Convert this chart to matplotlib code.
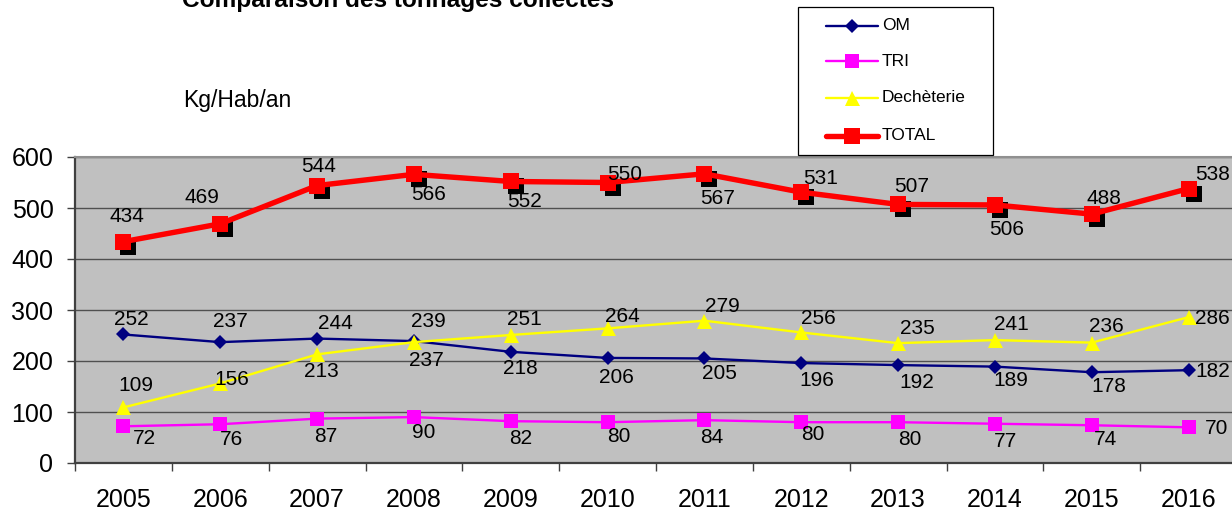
import matplotlib
matplotlib.use('Agg')
import matplotlib.pyplot as plt
from matplotlib.lines import Line2D
from matplotlib.patches import Rectangle
import matplotlib.transforms as mtransforms

plt.rcParams['font.family'] = ['Liberation Sans', 'DejaVu Sans']

# ---------------- data ----------------
years = ['2005', '2006', '2007', '2008', '2009', '2010',
         '2011', '2012', '2013', '2014', '2015', '2016']
om = [252, 237, 244, 239, 218, 206, 205, 196, 192, 189, 178, 182]
tri = [72, 76, 87, 90, 82, 80, 84, 80, 80, 77, 74, 70]
dech = [109, 156, 213, 237, 251, 264, 279, 256, 235, 241, 236, 286]
total = [434, 469, 544, 566, 552, 550, 567, 531, 507, 506, 488, 538]
y_ticks = [0, 100, 200, 300, 400, 500, 600]
series_names = ['OM', 'TRI', 'Dechèterie', 'TOTAL']
title = "Comparaison des tonnages collectés"
unit_label = "Kg/Hab/an"

# ---------------- layout (label offsets in pixels: dx right, dy down) ----------------
off_total = [(4, -27), (-18, -28), (2, -21), (15, 18), (14, 18), (17, -10),
             (13, 23), (19, -16), (14, -20), (12, 23), (12, -18), (24, -16)]
off_om = [(8, -17), (10, -23), (18, -17), (14, -22), (10, 15), (9, 18),
          (15, 13), (16, 15), (19, 15), (16, 12), (17, 12), (24, -1)]
off_tri = [(21, 10), (11, 13), (9, 16), (10, 13), (10, 15), (11, 12),
           (7, 15), (12, 10), (12, 15), (11, 16), (14, 12), (28, -1)]
off_dech = [(12, -24), (12, -6), (4, 15), (12, 16), (14, -17), (15, -14),
            (18, -16), (17, -16), (19, -17), (16, -18), (15, -18), (24, -1)]

W, H = 1232, 512
fig = plt.figure(figsize=(W / 100, H / 100), dpi=100)
ax = fig.add_axes([75 / W, 49 / H, 1162 / W, 306 / H])
ax.set_facecolor('#C0C0C0')

x = list(range(len(years)))
ax.set_xlim(-0.5, 11.5)
ax.set_ylim(0, 600)

styles = {
    'OM': dict(color='#000080', marker='D', ms=7.0, lw=1.7),
    'TRI': dict(color='#FF00FF', marker='s', ms=9.6, lw=1.7),
    'Dechèterie': dict(color='#FFFF00', marker='^', ms=10.8, lw=1.7),
    'TOTAL': dict(color='#FF0000', marker='s', ms=11.0, lw=3.9),
}
data = {'OM': om, 'TRI': tri, 'Dechèterie': dech, 'TOTAL': total}
offsets = {'OM': off_om, 'TRI': off_tri, 'Dechèterie': off_dech, 'TOTAL': off_total}

# shadow for TOTAL markers
shadow = ax.transData + mtransforms.ScaledTranslation(5 / 100, -5 / 100, fig.dpi_scale_trans)
ax.plot(x, total, ls='none', marker='s', ms=11.0, color='black', mew=0,
        transform=shadow, zorder=5)

z = 3
for name in series_names:
    st = styles[name]
    zz = 6 if name == 'TOTAL' else z
    ax.plot(x, data[name], color=st['color'], lw=st['lw'], marker=st['marker'],
            ms=st['ms'], mew=0, zorder=zz)
    z += 0.1

for name in series_names:
    for i, v in enumerate(data[name]):
        dx, dy = offsets[name][i]
        ax.annotate(str(v), (i, v), xytext=(dx, -(dy + 7.5)),
                    textcoords='offset pixels', ha='center', va='baseline',
                    fontsize=15, color='black', zorder=10)

# grid
ax.set_yticks(y_ticks)
ax.yaxis.grid(True, color='#505050', lw=1.0)
ax.set_axisbelow(True)

# ticks
ax.set_xticks(x)
ax.set_xticklabels(years, fontsize=18)
ax.set_xticks([i - 0.5 for i in range(13)], minor=True)
ax.tick_params(axis='x', which='major', length=0, pad=18)
ax.tick_params(axis='x', which='minor', length=5.5, width=1, color='#404040', direction='out')
ax.tick_params(axis='y', which='major', labelsize=18, length=5.5, width=1,
               color='#404040', pad=10)

for s in ['left', 'bottom']:
    ax.spines[s].set_color('#404040')
    ax.spines[s].set_linewidth(1.6)
ax.spines['top'].set_color('#909090')
ax.spines['top'].set_linewidth(1.5)
ax.spines['right'].set_visible(False)

# title & unit label
fig.text(182 / W, 1 - 7 / H, title, fontsize=17.6, fontweight='bold',
         ha='left', va='baseline')
fig.text(183 / W, 1 - 100 / H, unit_label, fontsize=16.5, ha='left', va='center')

# legend (manual)
fig.add_artist(Rectangle((798 / W, 1 - 155 / H), (993 - 798) / W, (155 - 7) / H,
                         transform=fig.transFigure, facecolor='white',
                         edgecolor='black', lw=0.9))
rows = [26, 61, 98, 136]
for name, yy in zip(series_names, rows):
    st = styles[name]
    fy = 1 - yy / H
    fig.add_artist(Line2D([826 / W, 878 / W], [fy, fy], transform=fig.transFigure,
                          color=st['color'], lw=st['lw'], solid_capstyle='round'))
    fig.add_artist(Line2D([852 / W], [fy], transform=fig.transFigure,
                          color=st['color'], marker=st['marker'], ms=st['ms'], mew=0,
                          ls='none'))
    fig.text(882 / W, fy, name, fontsize=12.5, ha='left', va='center')

fig.savefig('out.png', dpi=100)
